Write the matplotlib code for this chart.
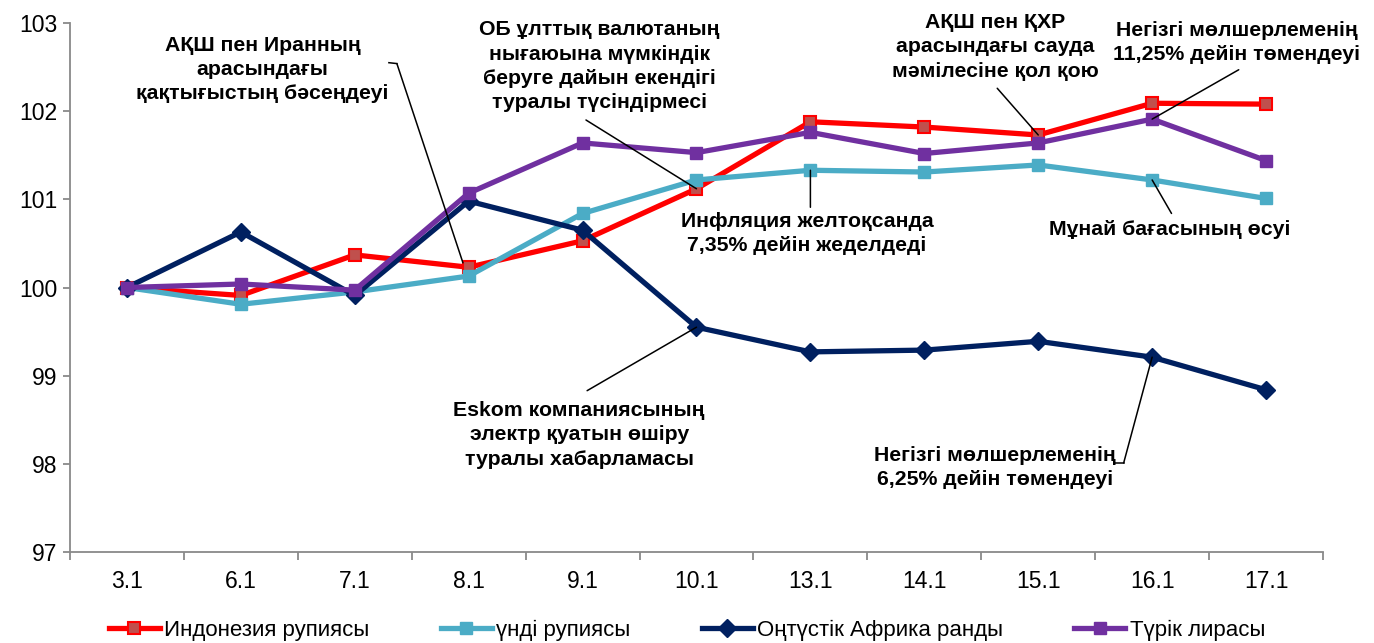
import matplotlib
matplotlib.use("Agg")
import matplotlib.pyplot as plt

dates = ["3.1", "6.1", "7.1", "8.1", "9.1", "10.1", "13.1", "14.1", "15.1", "16.1", "17.1"]
indonesia = [100, 99.91, 100.37, 100.23, 100.53, 101.12, 101.88, 101.82, 101.73, 102.09, 102.08]
india = [100, 99.81, 99.95, 100.13, 100.84, 101.22, 101.33, 101.31, 101.39, 101.22, 101.01]
safrica = [100, 100.63, 99.91, 100.98, 100.65, 99.55, 99.27, 99.29, 99.39, 99.21, 98.84]
turkey = [100, 100.04, 99.97, 101.07, 101.64, 101.53, 101.76, 101.52, 101.64, 101.91, 101.44]

labels = ["Индонезия рупиясы", "үнді рупиясы", "Оңтүстік Африка ранды", "Түрік лирасы"]

plt.rcParams['font.family'] = ['Liberation Sans', 'DejaVu Sans']

fig = plt.figure(figsize=(13.74, 6.43), dpi=100)
ax = fig.add_axes([0.0509, 0.1415, 0.912, 0.8227])
x = list(range(len(dates)))

ax.plot(x, indonesia, color="#FF0000", lw=3.8, marker="s", ms=9, mfc="#C0504D", mec="#FF0000", mew=1.5, label=labels[0], zorder=3)
ax.plot(x, india, color="#4BACC6", lw=3.8, marker="s", ms=9, mfc="#4BACC6", mec="#4BACC6", label=labels[1], zorder=4)
ax.plot(x, safrica, color="#002060", lw=3.8, marker="D", ms=9, mfc="#002060", mec="#002060", label=labels[2], zorder=5)
ax.plot(x, turkey, color="#7030A0", lw=3.8, marker="s", ms=9, mfc="#7030A0", mec="#7030A0", label=labels[3], zorder=6)

ax.set_xlim(-0.5, len(dates) - 0.5)
ax.set_ylim(97, 103)
ax.set_yticks([97, 98, 99, 100, 101, 102, 103])
ax.set_xticks(x)
ax.set_xticklabels(dates)
ax.set_xticks([i - 0.5 for i in range(len(dates) + 1)], minor=True)
ax.tick_params(axis="x", which="major", length=0, labelsize=16.5, pad=13)
ax.tick_params(axis="x", which="minor", length=6, color="#898989", width=1.3)
ax.tick_params(axis="y", length=5, color="#898989", width=1.3, labelsize=16.5, pad=4)
for s in ["top", "right"]:
    ax.spines[s].set_visible(False)
for s in ["left", "bottom"]:
    ax.spines[s].set_color("#898989")
    ax.spines[s].set_linewidth(1.3)

fs = 15.3
tkw = dict(ha="center", va="center", fontsize=fs, fontweight="bold", linespacing=1.35, zorder=8)
lkw = dict(arrowprops=dict(arrowstyle="-", color="black", lw=1.1, shrinkA=0, shrinkB=0), zorder=7)

ax.text(1.19, 102.47, "АҚШ пен Иранның\nарасындағы\nқақтығыстың бәсеңдеуі", **tkw)
ax.plot([2.30, 2.37], [102.55, 102.54], color="black", lw=1.1)
ax.annotate("", xy=(2.95, indonesia[3] + 0.05), xytext=(2.37, 102.54), **lkw)

ax.text(4.15, 102.51, "ОБ ұлттық валютаның\nнығаюына мүмкіндік\nберуге дайын екендігі\nтуралы түсіндірмесі", **tkw)
ax.annotate("", xy=(5, indonesia[5]), xytext=(4.03, 101.90), **lkw)

ax.text(5.97, 100.61, "Инфляция желтоқсанда\n7,35% дейін жеделдеді", **tkw)
ax.annotate("", xy=(6, india[6]), xytext=(6, 100.91), **lkw)

ax.text(7.62, 102.73, "АҚШ пен ҚХР\nарасындағы сауда\nмәмілесіне қол қою", **tkw)
ax.annotate("", xy=(8, indonesia[8]), xytext=(7.64, 102.26), **lkw)

ax.text(9.74, 102.78, "Негізгі мөлшерлеменің\n11,25% дейін төмендеуі", **tkw)
ax.annotate("", xy=(9, turkey[9]), xytext=(9.76, 102.47), **lkw)

ax.text(9.15, 100.66, "Мұнай бағасының өсуі", **tkw)
ax.annotate("", xy=(9, india[9]), xytext=(9.17, 100.84), **lkw)

ax.text(3.97, 98.33, "Eskom компаниясының\nэлектр қуатын өшіру\nтуралы хабарламасы", **tkw)
ax.annotate("", xy=(5, safrica[5]), xytext=(4.04, 98.83), **lkw)

ax.text(7.62, 97.96, "Негізгі мөлшерлеменің\n6,25% дейін төмендеуі", **tkw)
ax.plot([8.67, 8.75], [98.01, 98.01], color="black", lw=1.1)
ax.annotate("", xy=(9, safrica[9]), xytext=(8.75, 98.01), **lkw)

fig.legend(loc="center", bbox_to_anchor=(0.5, 0.02), ncol=4, frameon=False, fontsize=16,
           handlelength=2.3, columnspacing=3.2, handletextpad=0.2)

fig.savefig("out.png", dpi=100)
